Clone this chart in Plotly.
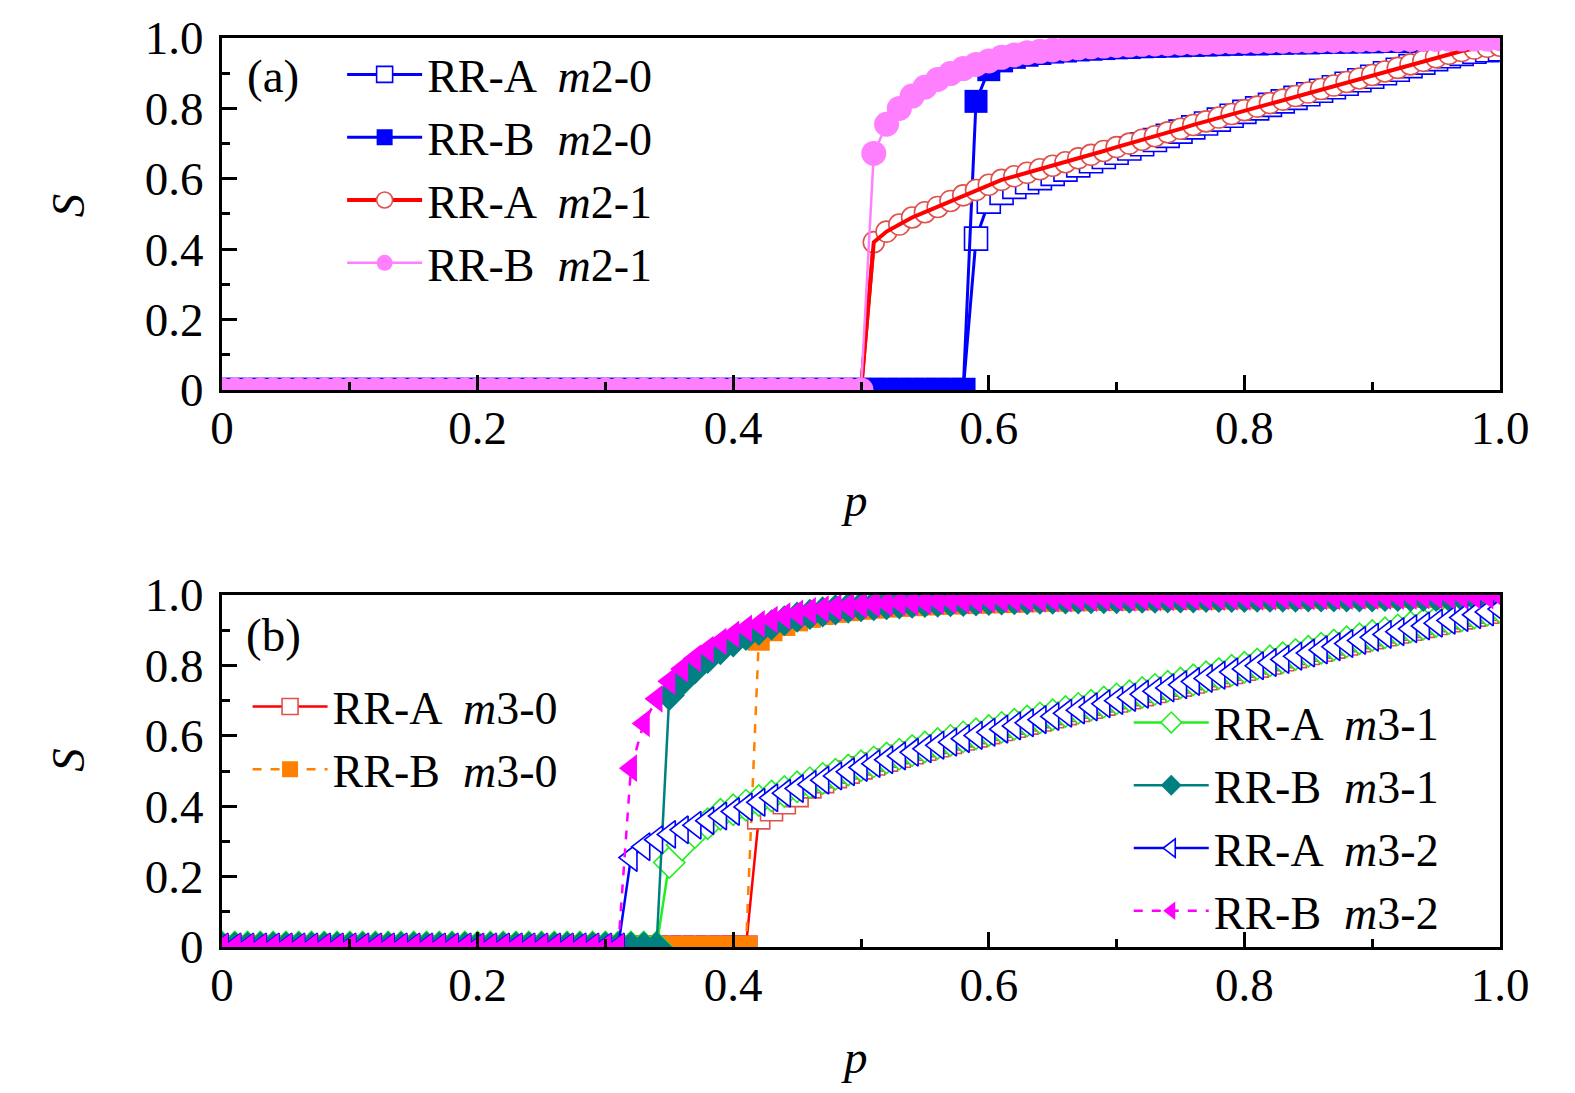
import plotly.graph_objects as go

# control parameter p, step 0.01
P = [0.00, 0.01, 0.02, 0.03, 0.04, 0.05, 0.06, 0.07, 0.08, 0.09,
     0.10, 0.11, 0.12, 0.13, 0.14, 0.15, 0.16, 0.17, 0.18, 0.19,
     0.20, 0.21, 0.22, 0.23, 0.24, 0.25, 0.26, 0.27, 0.28, 0.29,
     0.30, 0.31, 0.32, 0.33, 0.34, 0.35, 0.36, 0.37, 0.38, 0.39,
     0.40, 0.41, 0.42, 0.43, 0.44, 0.45, 0.46, 0.47, 0.48, 0.49,
     0.50, 0.51, 0.52, 0.53, 0.54, 0.55, 0.56, 0.57, 0.58, 0.59,
     0.60, 0.61, 0.62, 0.63, 0.64, 0.65, 0.66, 0.67, 0.68, 0.69,
     0.70, 0.71, 0.72, 0.73, 0.74, 0.75, 0.76, 0.77, 0.78, 0.79,
     0.80, 0.81, 0.82, 0.83, 0.84, 0.85, 0.86, 0.87, 0.88, 0.89,
     0.90, 0.91, 0.92, 0.93, 0.94, 0.95, 0.96, 0.97, 0.98, 0.99,
     1.00]

### panel (a)
S_A_M20 = [0, 0, 0, 0, 0, 0, 0, 0, 0, 0, 0, 0, 0, 0, 0, 0, 0, 0, 0, 0,
           0, 0, 0, 0, 0, 0, 0, 0, 0, 0, 0, 0, 0, 0, 0, 0, 0, 0, 0, 0,
           0, 0, 0, 0, 0, 0, 0, 0, 0, 0, 0, 0, 0, 0, 0, 0, 0, 0, 0,
           0.43, 0.535, 0.56, 0.577, 0.59, 0.602, 0.614, 0.626, 0.638, 0.65,
           0.662, 0.674, 0.686, 0.698, 0.71, 0.722, 0.734, 0.746, 0.757, 0.768,
           0.779, 0.79, 0.80, 0.81, 0.82, 0.83, 0.84, 0.85, 0.86, 0.87,
           0.88, 0.89, 0.90, 0.91, 0.92, 0.93, 0.94, 0.948, 0.955, 0.961,
           0.965, 0.968]
S_B_M20 = [0, 0, 0, 0, 0, 0, 0, 0, 0, 0, 0, 0, 0, 0, 0, 0, 0, 0, 0, 0,
           0, 0, 0, 0, 0, 0, 0, 0, 0, 0, 0, 0, 0, 0, 0, 0, 0, 0, 0, 0,
           0, 0, 0, 0, 0, 0, 0, 0, 0, 0, 0, 0, 0, 0, 0, 0, 0, 0, 0,
           0.82, 0.91, 0.935, 0.945, 0.951, 0.956, 0.96, 0.963, 0.966, 0.968,
           0.97, 0.972, 0.973, 0.975, 0.976, 0.977, 0.978, 0.979, 0.98, 0.981,
           0.982, 0.983, 0.983, 0.984, 0.985, 0.986, 0.986, 0.987, 0.988, 0.988,
           0.989, 0.989, 0.99, 0.99, 0.991, 0.991, 0.992, 0.992, 0.992, 0.993,
           0.993, 0.994]
S_A_M21 = [0, 0, 0, 0, 0, 0, 0, 0, 0, 0, 0, 0, 0, 0, 0, 0, 0, 0, 0, 0,
           0, 0, 0, 0, 0, 0, 0, 0, 0, 0, 0, 0, 0, 0, 0, 0, 0, 0, 0, 0,
           0, 0, 0, 0, 0, 0, 0, 0, 0, 0, 0,
           0.42, 0.45, 0.47, 0.49, 0.505, 0.52, 0.537, 0.553, 0.568, 0.583,
           0.597, 0.607, 0.617, 0.627, 0.637, 0.647, 0.658, 0.668, 0.679, 0.69,
           0.70, 0.711, 0.721, 0.732, 0.742, 0.753, 0.763, 0.774, 0.784, 0.795,
           0.805, 0.815, 0.825, 0.835, 0.845, 0.855, 0.865, 0.875, 0.885, 0.895,
           0.905, 0.915, 0.925, 0.935, 0.945, 0.955, 0.963, 0.97, 0.975, 0.978]
S_B_M21 = [0, 0, 0, 0, 0, 0, 0, 0, 0, 0, 0, 0, 0, 0, 0, 0, 0, 0, 0, 0,
           0, 0, 0, 0, 0, 0, 0, 0, 0, 0, 0, 0, 0, 0, 0, 0, 0, 0, 0, 0,
           0, 0, 0, 0, 0, 0, 0, 0, 0, 0, 0,
           0.672, 0.755, 0.80, 0.835, 0.86, 0.882, 0.899, 0.913, 0.925, 0.935,
           0.945, 0.952, 0.958, 0.962, 0.966, 0.969, 0.972, 0.975, 0.977, 0.979,
           0.98, 0.982, 0.983, 0.984, 0.985, 0.986, 0.987, 0.988, 0.989, 0.99,
           0.99, 0.991, 0.991, 0.992, 0.992, 0.993, 0.993, 0.994, 0.994, 0.995,
           0.995, 0.995, 0.996, 0.996, 0.996, 0.997, 0.997, 0.997, 0.997, 0.998]

### panel (b)
S_A_M30 = [0, 0, 0, 0, 0, 0, 0, 0, 0, 0, 0, 0, 0, 0, 0, 0, 0, 0, 0, 0,
           0, 0, 0, 0, 0, 0, 0, 0, 0, 0, 0, 0, 0, 0, 0, 0, 0, 0, 0, 0,
           0, 0,
           0.367, 0.39, 0.41, 0.43, 0.455, 0.47, 0.484, 0.497, 0.509,
           0.52, 0.531, 0.542, 0.552, 0.562, 0.572, 0.581, 0.591, 0.60, 0.609,
           0.618, 0.627, 0.636, 0.645, 0.654, 0.663, 0.672, 0.681, 0.69, 0.699,
           0.708, 0.717, 0.726, 0.735, 0.744, 0.753, 0.762, 0.771, 0.78, 0.789,
           0.798, 0.807, 0.816, 0.825, 0.834, 0.843, 0.852, 0.861, 0.87, 0.879,
           0.887, 0.895, 0.903, 0.911, 0.919, 0.927, 0.935, 0.943, 0.951, 0.959]
S_B_M30 = [0, 0, 0, 0, 0, 0, 0, 0, 0, 0, 0, 0, 0, 0, 0, 0, 0, 0, 0, 0,
           0, 0, 0, 0, 0, 0, 0, 0, 0, 0, 0, 0, 0, 0, 0, 0, 0, 0, 0, 0,
           0, 0,
           0.873, 0.90, 0.915, 0.928, 0.938, 0.946, 0.952, 0.957, 0.961,
           0.964, 0.967, 0.969, 0.971, 0.973, 0.975, 0.976, 0.977, 0.978, 0.979,
           0.98, 0.981, 0.982, 0.983, 0.984, 0.985, 0.985, 0.986, 0.986, 0.987,
           0.987, 0.988, 0.988, 0.989, 0.989, 0.99, 0.99, 0.99, 0.991, 0.991,
           0.991, 0.992, 0.992, 0.992, 0.993, 0.993, 0.993, 0.994, 0.994, 0.994,
           0.994, 0.995, 0.995, 0.995, 0.995, 0.996, 0.996, 0.996, 0.996, 0.997]
S_A_M31 = [0, 0, 0, 0, 0, 0, 0, 0, 0, 0, 0, 0, 0, 0, 0, 0, 0, 0, 0, 0,
           0, 0, 0, 0, 0, 0, 0, 0, 0, 0, 0, 0, 0, 0, 0,
           0.24, 0.29, 0.325, 0.35, 0.377, 0.39, 0.403, 0.416, 0.429, 0.442,
           0.455, 0.467, 0.479, 0.491, 0.503, 0.515, 0.526, 0.537, 0.548, 0.558,
           0.568, 0.578, 0.587, 0.597, 0.606, 0.615, 0.624, 0.633, 0.642, 0.651,
           0.66, 0.669, 0.678, 0.687, 0.696, 0.705, 0.714, 0.723, 0.732, 0.741,
           0.75, 0.759, 0.768, 0.777, 0.786, 0.795, 0.804, 0.813, 0.822, 0.831,
           0.84, 0.849, 0.858, 0.867, 0.876, 0.885, 0.893, 0.901, 0.909, 0.917,
           0.925, 0.933, 0.941, 0.949, 0.957, 0.965]
S_B_M31 = [0, 0, 0, 0, 0, 0, 0, 0, 0, 0, 0, 0, 0, 0, 0, 0, 0, 0, 0, 0,
           0, 0, 0, 0, 0, 0, 0, 0, 0, 0, 0, 0, 0, 0, 0,
           0.715, 0.755, 0.79, 0.82, 0.845, 0.867, 0.885, 0.90, 0.915, 0.927,
           0.937, 0.945, 0.952, 0.958, 0.963, 0.967, 0.97, 0.973, 0.975, 0.977,
           0.979, 0.98, 0.981, 0.982, 0.983, 0.985, 0.986, 0.987, 0.987, 0.988,
           0.988, 0.989, 0.989, 0.99, 0.99, 0.99, 0.991, 0.991, 0.991, 0.992,
           0.992, 0.992, 0.993, 0.993, 0.993, 0.993, 0.994, 0.994, 0.994, 0.994,
           0.995, 0.995, 0.995, 0.995, 0.995, 0.995, 0.996, 0.996, 0.996, 0.996,
           0.996, 0.996, 0.997, 0.997, 0.997, 0.997]
S_A_M32 = [0, 0, 0, 0, 0, 0, 0, 0, 0, 0, 0, 0, 0, 0, 0, 0, 0, 0, 0, 0,
           0, 0, 0, 0, 0, 0, 0, 0, 0, 0, 0, 0,
           0.254, 0.285, 0.305, 0.32, 0.333, 0.346, 0.359, 0.372,
           0.385, 0.398, 0.411, 0.424, 0.437, 0.45, 0.462, 0.474, 0.486, 0.498,
           0.51, 0.521, 0.532, 0.543, 0.553, 0.563, 0.573, 0.582, 0.592, 0.601,
           0.61, 0.619, 0.628, 0.637, 0.646, 0.655, 0.664, 0.673, 0.682, 0.691,
           0.70, 0.709, 0.718, 0.727, 0.736, 0.745, 0.754, 0.763, 0.772, 0.781,
           0.79, 0.799, 0.808, 0.817, 0.826, 0.835, 0.844, 0.853, 0.862, 0.871,
           0.88, 0.888, 0.896, 0.904, 0.912, 0.92, 0.928, 0.936, 0.944, 0.952,
           0.96]
S_B_M32 = [0, 0, 0, 0, 0, 0, 0, 0, 0, 0, 0, 0, 0, 0, 0, 0, 0, 0, 0, 0,
           0, 0, 0, 0, 0, 0, 0, 0, 0, 0, 0, 0,
           0.508, 0.635, 0.705, 0.755, 0.79, 0.82, 0.845, 0.868,
           0.888, 0.905, 0.918, 0.93, 0.94, 0.948, 0.955, 0.96, 0.965, 0.969,
           0.972, 0.975, 0.977, 0.979, 0.98, 0.982, 0.983, 0.984, 0.985, 0.986,
           0.987, 0.988, 0.988, 0.989, 0.989, 0.99, 0.99, 0.991, 0.991, 0.992,
           0.992, 0.992, 0.993, 0.993, 0.993, 0.994, 0.994, 0.994, 0.994, 0.995,
           0.995, 0.995, 0.995, 0.996, 0.996, 0.996, 0.996, 0.996, 0.997, 0.997,
           0.997, 0.997, 0.997, 0.997, 0.998, 0.998, 0.998, 0.998, 0.998, 0.998,
           0.998]

TICKS = [0, 0.2, 0.4, 0.6, 0.8, 1.0]
TICK_TEXT = ["0", "0.2", "0.4", "0.6", "0.8", "1.0"]

FONT = "Liberation Serif"
FS = 47


def add_curve(fig, s, name, color, symbol, open_marker, panel, legend,
              dash="solid", lw=3, size=23, edge=None, line_on_top=False):
    """une courbe S(p) avec marqueurs"""
    if open_marker:
        marker = dict(symbol=symbol, size=size, color="white",
                      line=dict(color=edge or color, width=1.6))
    else:
        marker = dict(symbol=symbol, size=size, color=color, line=dict(width=0))
    xa, ya = ("x", "y") if panel == 1 else ("x2", "y2")
    fig.add_trace(go.Scatter(
        x=P, y=s, name=name, mode="lines+markers",
        line=dict(color=color, width=lw, dash=dash),
        marker=marker, xaxis=xa, yaxis=ya, legend=legend,
    ))
    # la ligne repasse par-dessus les marqueurs ouverts
    if line_on_top:
        fig.add_trace(go.Scatter(
            x=P, y=s, mode="lines", showlegend=False, hoverinfo="skip",
            line=dict(color=color, width=lw, dash=dash), xaxis=xa, yaxis=ya,
        ))


fig = go.Figure()

add_curve(fig, S_A_M20, "RR-A  <i>m</i>2-0", "#0000FF", "square", True, 1, "legend", lw=3)
add_curve(fig, S_B_M20, "RR-B  <i>m</i>2-0", "#0000FF", "square", False, 1, "legend", lw=3)
add_curve(fig, S_A_M21, "RR-A  <i>m</i>2-1", "#FF0000", "circle", True, 1, "legend",
          lw=4, size=21, edge="#E0504C", line_on_top=True)
add_curve(fig, S_B_M21, "RR-B  <i>m</i>2-1", "#FF80FF", "circle", False, 1, "legend",
          lw=2.5, size=25)

add_curve(fig, S_A_M30, "RR-A  <i>m</i>3-0", "#FF0000", "square", True, 2, "legend2",
          lw=2.5, size=22, edge="#E0504C")
add_curve(fig, S_B_M30, "RR-B  <i>m</i>3-0", "#FF8000", "square", False, 2, "legend2",
          dash="dash", lw=2.5, size=22)
add_curve(fig, S_A_M31, "RR-A  <i>m</i>3-1", "#22EE22", "diamond", True, 2, "legend3",
          lw=2.5, size=24)
add_curve(fig, S_B_M31, "RR-B  <i>m</i>3-1", "#008080", "diamond", False, 2, "legend3",
          lw=2.5, size=24)
add_curve(fig, S_A_M32, "RR-A  <i>m</i>3-2", "#0000FF", "triangle-left", True, 2, "legend3",
          lw=2.5, size=24)
add_curve(fig, S_B_M32, "RR-B  <i>m</i>3-2", "#FF00FF", "triangle-left", False, 2, "legend3",
          dash="dash", lw=2.5, size=24)

axis_style = dict(
    range=[0, 1], tickvals=TICKS, ticktext=TICK_TEXT, automargin=False,
    ticklabeloverflow="allow",
    ticks="inside", ticklen=15, tickwidth=2.5, tickcolor="black",
    minor=dict(dtick=0.1, ticks="inside", ticklen=8, tickwidth=2.5, tickcolor="black"),
    showline=True, linecolor="black", linewidth=3, mirror=True,
    showgrid=False, zeroline=False,
    tickfont=dict(family=FONT, size=FS, color="black"),
)

legend_style = dict(font=dict(family=FONT, size=46, color="black"),
                    bgcolor="rgba(255,255,255,0)", xanchor="left", yanchor="top",
                    tracegroupgap=0, itemwidth=75)


def label(text, x, y, angle=0):
    return dict(text=text, x=x, y=y, xref="paper", yref="paper", showarrow=False,
                xanchor="center", yanchor="middle", textangle=angle,
                font=dict(family=FONT, size=FS, color="black"))


fig.update_layout(
    width=1575, height=1093,
    paper_bgcolor="white", plot_bgcolor="white",
    margin=dict(l=214, r=83, t=30, b=154),
    xaxis=dict(domain=[0, 1], anchor="y", ticklabelstandoff=-5, **axis_style),
    yaxis=dict(domain=[0.6128, 1], anchor="x", ticklabelstandoff=6, **axis_style),
    xaxis2=dict(domain=[0, 1], anchor="y2", ticklabelstandoff=-5, **axis_style),
    yaxis2=dict(domain=[0, 0.3872], anchor="x2", ticklabelstandoff=6, **axis_style),
    legend=dict(x=0.094, y=1.0, **legend_style),
    legend2=dict(x=0.020, y=0.3047, **legend_style),
    legend3=dict(x=0.7095, y=0.2871, **legend_style),
    annotations=[
        label("(a)", 0.040, 0.958),
        label("(b)", 0.040, 0.343),
        label("<i>p</i>", 0.495, 0.4917),
        label("<i>p</i>", 0.495, -0.121),
        label("<i>S</i>", -0.1205, 0.816, -90),
        label("<i>S</i>", -0.1205, 0.206, -90),
    ],
)

fig.write_html("out.html")
